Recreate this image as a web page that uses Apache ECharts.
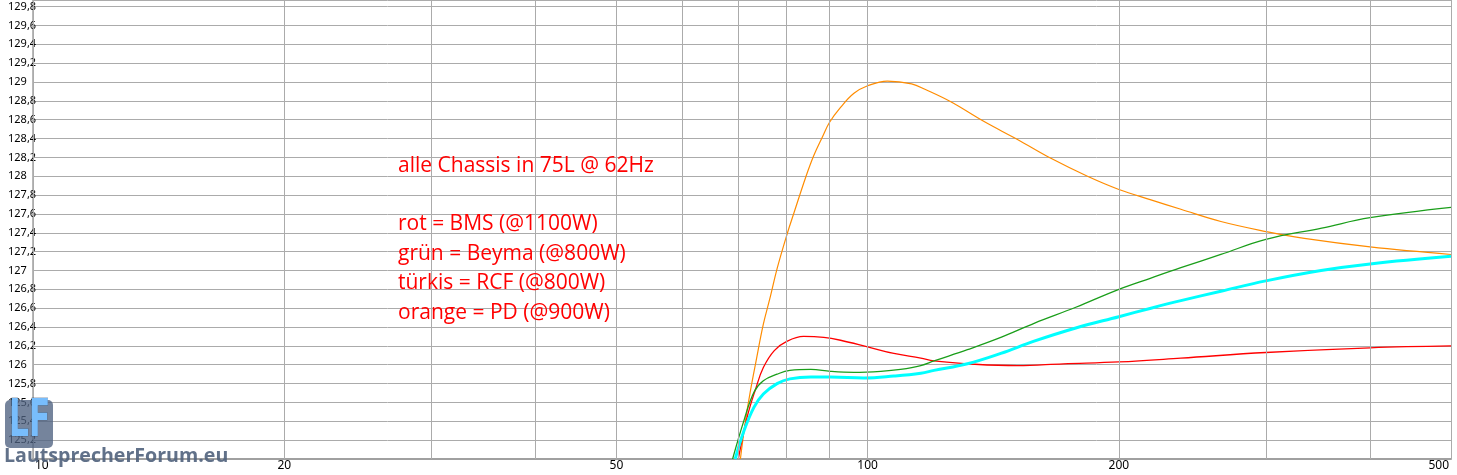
<!DOCTYPE html>
<html><head><meta charset="utf-8">
<script src="https://cdn.jsdelivr.net/npm/echarts@6/dist/echarts.min.js"></script>
<style>html,body{margin:0;padding:0;background:#fff}#c{width:1457px;height:475px}</style>
</head><body><div id="c"></div>
<script>
// ---- data ----
const redF   = [70.0,71.7,73.4,75.0,77.3,80.1,83.8,88.6,92.8,100,107.5,115.8,120.1,131.7,151.2,171.6,200,237.3,300,400,500];
const redV   = [125.0,125.44,125.74,125.97,126.15,126.25,126.30,126.29,126.26,126.19,126.12,126.07,126.04,126.01,125.99,126.01,126.03,126.07,126.13,126.18,126.20];
const greenF = [68.9,71.1,73.1,75.0,77.9,80.7,85.5,90.3,96.3,103.7,109.5,115.8,120.1,131.7,144.4,158.3,177.6,200,218.5,237.3,265,300,350,400,500];
const greenV = [125.0,125.41,125.71,125.83,125.90,125.94,125.95,125.93,125.92,125.93,125.95,125.99,126.04,126.16,126.29,126.44,126.61,126.80,126.92,127.03,127.17,127.33,127.45,127.56,127.67];
const cyanF  = [69.4,71.1,73.1,75.0,77.9,80.7,85.5,90.3,99,107.5,115.8,120.1,131.7,144.4,158.3,177.6,200,218.5,237.3,265,300,349.4,400,500];
const cyanV  = [125.0,125.30,125.55,125.69,125.80,125.85,125.87,125.87,125.86,125.88,125.91,125.94,126.01,126.12,126.25,126.39,126.51,126.60,126.68,126.78,126.89,127.00,127.07,127.15];
const orangeF= [70.4,71.4,72.4,73.4,75.0,76.5,77.9,80.1,81.6,84.3,86.2,88.3,90.0,92.8,96.3,100,105.6,112.9,117.3,125.8,137.9,151.2,165.8,183.4,200,218.5,237.3,265,301.5,333.6,400,500];
const orangeV= [125.0,125.41,125.73,126.01,126.43,126.73,127.02,127.39,127.61,127.99,128.22,128.42,128.57,128.73,128.88,128.96,129.01,128.98,128.92,128.79,128.58,128.39,128.19,128.0,127.86,127.75,127.65,127.52,127.41,127.34,127.25,127.17];
const xGrid  = [10,20,30,40,50,60,70,80,90,100,200,300,400,500];
const xLabeled = [10,20,50,100,200,500];
const noteLines = ['alle Chassis in 75L @ 62Hz','','rot = BMS (@1100W)','grün = Beyma (@800W)','türkis = RCF (@800W)','orange = PD (@900W)'];

const pairs = (f,v)=>f.map((x,i)=>[x,v[i]]);
const gridColor = '#ababab';

const chart = echarts.init(document.getElementById('c'), null, {renderer:'canvas'});
chart.setOption({
  animation:false,
  backgroundColor:'#fff',
  title:{
    text: noteLines.join('\n'),
    left:393, top:146,
    textStyle:{color:'#ff0000', fontFamily:'Open Sans', fontSize:21, fontWeight:'normal', lineHeight:29.4}
  },
  grid:{left:33, right:6, top:0, bottom:16, containLabel:false},
  xAxis:{
    type:'log', logBase:10, min:10, max:500,
    axisLine:{show:true, lineStyle:{color:'#a0a0a0', width:2}},
    axisTick:{show:false}, axisLabel:{show:false},
    splitLine:{show:false}, minorSplitLine:{show:false}
  },
  yAxis:{
    type:'value', min:125, max:129.87, interval:0.2,
    axisLine:{show:true, lineStyle:{color:'#a0a0a0', width:1.5}},
    axisTick:{show:false},
    axisLabel:{
      align:'left', margin:25, color:'#000', fontFamily:'Noto Sans', fontSize:11,
      formatter:function(v){
        if (Math.abs(v*5-Math.round(v*5))>1e-6) return '';
        if (Math.abs(v-125)<1e-6) return '';
        let s = (Math.round(v*10)/10).toString();
        return s.replace('.',',');
      }
    },
    splitLine:{show:true, lineStyle:{color:gridColor, width:1}}
  },
  graphic:[
    {type:'rect', left:5, top:400, z:100, shape:{width:48, height:48, r:5}, style:{fill:'rgba(78,98,128,0.78)'}},
    {type:'text', x:9, y:396, scaleX:0.6, z:101, style:{text:'LF', fill:'#78bdfc', stroke:'rgba(40,60,90,0.5)', lineWidth:1, font:'bold 52px "DejaVu Sans"', textVerticalAlign:'top'}},
    {type:'text', left:4, top:446, z:101, style:{text:'LautsprecherForum.eu', fill:'rgba(80,98,124,0.9)', font:'bold 19.6px "Open Sans"'}}
  ],
  series:[
    {
      type:'line', data:[], z:1, clip:false, silent:true,
      markLine:{
        silent:true, symbol:'none', animation:false,
        lineStyle:{color:gridColor, width:1, type:'solid'},
        label:{show:false},
        data: xGrid.map(x=>{
          const shown = xLabeled.indexOf(x)>=0;
          const o = {xAxis:x, label:{show:shown, position:'start', distance:1, formatter:String(x),
            color:'#000', fontFamily:'Noto Sans', fontSize:12, backgroundColor:'#fff', padding:[0,2,0,2]}};
          if (x===10) o.label.align='left';
          if (x===500) o.label.align='right';
          return o;
        })
      }
    },
    {name:'orange', type:'line', data:pairs(orangeF,orangeV), smooth:0.4, showSymbol:false, z:3,
      lineStyle:{color:'#ff8c00', width:1.2}, itemStyle:{color:'#ff8c00'}},
    {name:'rot', type:'line', data:pairs(redF,redV), smooth:0.4, showSymbol:false, z:3,
      lineStyle:{color:'#ff0000', width:1.3}, itemStyle:{color:'#ff0000'}},
    {name:'grün', type:'line', data:pairs(greenF,greenV), smooth:0.4, showSymbol:false, z:3,
      lineStyle:{color:'#1a9e1a', width:1.3}, itemStyle:{color:'#1a9e1a'}},
    {name:'türkis', type:'line', data:pairs(cyanF,cyanV), smooth:0.4, showSymbol:false, z:3,
      lineStyle:{color:'#00ffff', width:3}, itemStyle:{color:'#00ffff'}}
  ]
});
</script></body></html>
